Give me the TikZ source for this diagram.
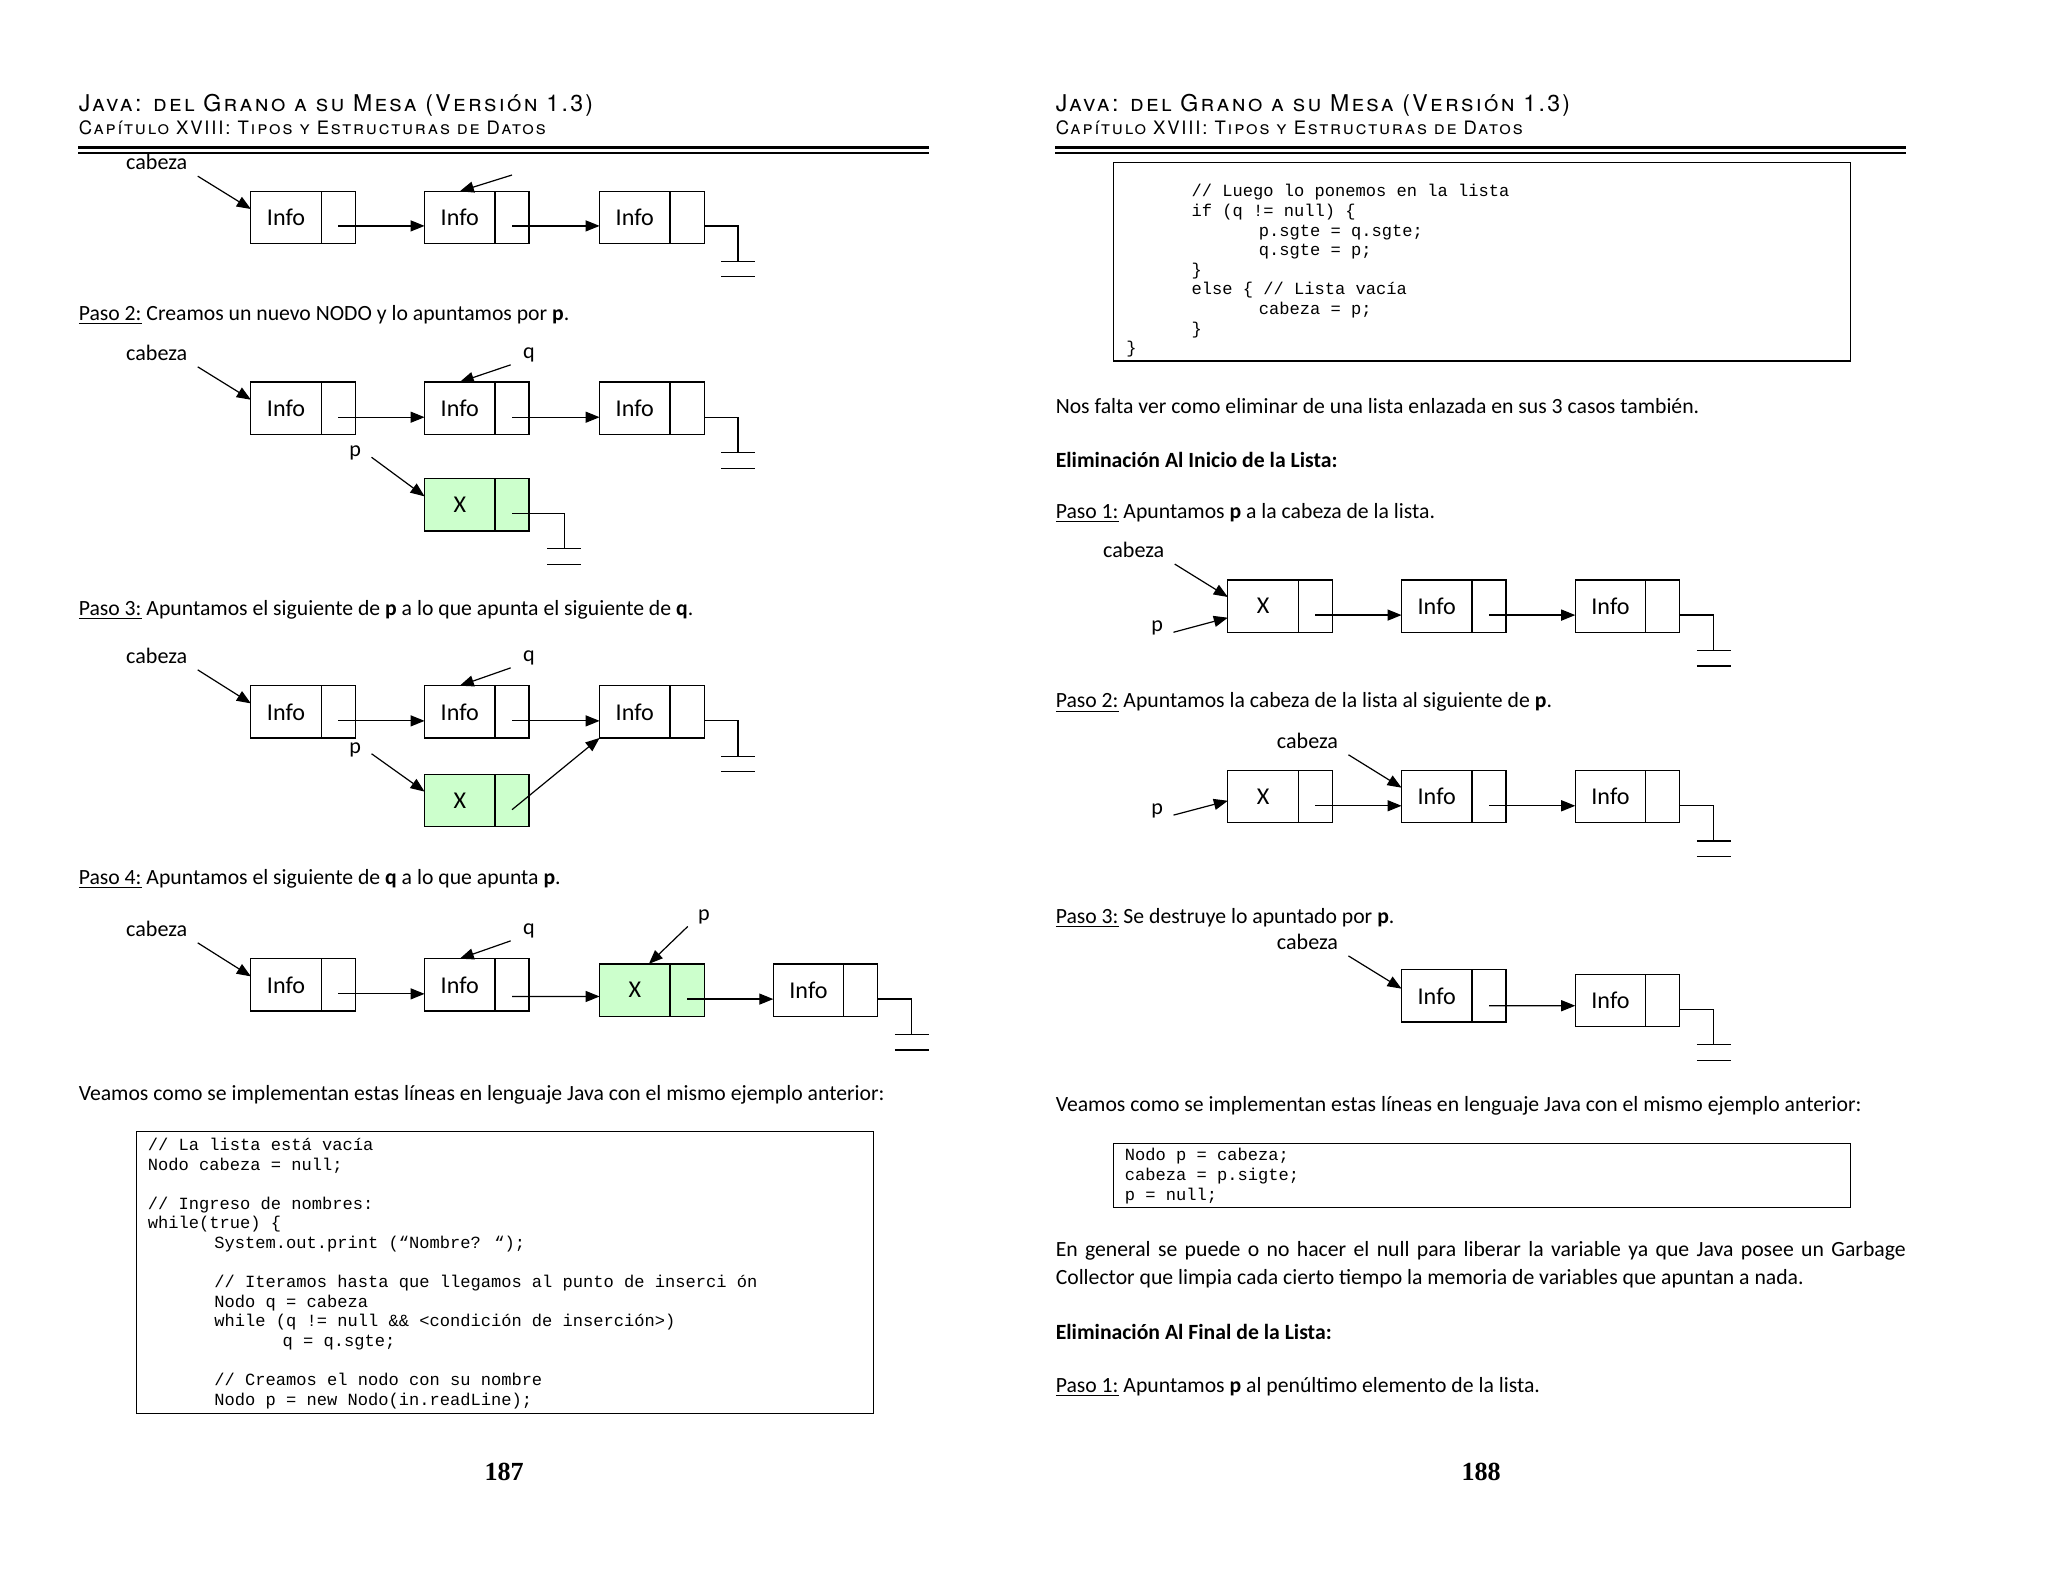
\documentclass[tikz,border=0pt]{standalone}
\usepackage{fontspec}
\setmainfont{Carlito}
\newfontfamily\encabezado{TeX Gyre Heros}[Letters=SmallCaps,LetterSpace=10]
\newfontfamily\codigo{Liberation Mono}
\newfontfamily\numpag{Liberation Serif}
\definecolor{nodoverde}{RGB}{204,255,204}
\usetikzlibrary{arrows.meta,positioning}

\begin{document}
\begin{tikzpicture}[x=0.65pt, y=-0.65pt,
  info/.style={draw, line width=0.6pt, minimum width=35pt, minimum height=26pt, inner sep=0pt, outer sep=0pt, font=\fontsize{12}{12}\selectfont},
  punt/.style={draw, line width=0.6pt, minimum width=17pt, minimum height=26pt, inner sep=0pt, outer sep=0pt},
  verde/.style={fill=nodoverde},
  flecha/.style={-{Triangle[length=7pt,width=5.5pt]}, line width=0.6pt},
  tierra/.style={line width=0.6pt},
  etiq/.style={inner sep=1pt, font=\fontsize{11}{12}\selectfont},
  texto/.style={anchor=west, inner sep=0pt, yshift=-1.2pt, font=\fontsize{10.8}{13}\selectfont},
  caja/.style={draw, line width=0.6pt, inner sep=0pt, anchor=north west},
  cod/.style={anchor=north west, inner sep=0pt, align=left, font=\codigo\fontsize{8.5}{9.75}\selectfont},
  regla/.style={line width=1.2pt}
]
\fill[white] (0,0) rectangle (1568,1211);
\useasboundingbox (0,0) rectangle (1568,1211);

%% ---------------- Pagina 187 ----------------
\node[anchor=west, inner sep=0pt, font=\encabezado\fontsize{11.5}{12}\selectfont] (tit1) at (60,81) {Java: del Grano a su Mesa (Versión 1.3)};
\node[anchor=west, inner sep=0pt, font=\encabezado\fontsize{9.2}{10}\selectfont] (cap1) at (60,98) {Capítulo XVIII: Tipos y Estructuras de Datos};
\draw[regla] (60,113) -- (711,113);
\draw[regla] (60,117) -- (711,117);

%% Paso 1 (final)
\node[etiq] (cab1) at (120,124) {cabeza};
\node[info] (a1) at (219,166.5) {Info};
\node[punt, right=0pt of a1] (a1p) {};
\node[info] (a2) at (352,166.5) {Info};
\node[punt, right=0pt of a2] (a2p) {};
\node[info] (a3) at (486,166.5) {Info};
\node[punt, right=0pt of a3] (a3p) {};
\coordinate (q1) at (392,134);
\draw[flecha] ([xshift=4pt,yshift=-2pt]cab1.south east) -- ([yshift=4.2pt]a1.west);
\draw[flecha] (q1) -- (a2.north);
\draw[flecha] ([yshift=-4.2pt]a1p.center) -- ([yshift=-4.2pt]a2.west);
\draw[flecha] ([yshift=-4.2pt]a2p.center) -- ([yshift=-4.2pt]a3.west);
\draw[tierra] ([yshift=-4.2pt]a3p.east) -- ++(26,0) -- ++(0,27) ++(-13,0) -- ++(26,0) ++(-26,12) -- ++(26,0);

%% Paso 2
\node[texto] (paso2) at (60,239) {\underline{Paso 2:} Creamos un nuevo NODO y lo apuntamos por \textbf{p}.};
\node[etiq] (cab2) at (120,270) {cabeza};
\node[etiq] (q2) at (405,272) {q};
\node[info] (b1) at (219,312.5) {Info};
\node[punt, right=0pt of b1] (b1p) {};
\node[info] (b2) at (352,312.5) {Info};
\node[punt, right=0pt of b2] (b2p) {};
\node[info] (b3) at (486,312.5) {Info};
\node[punt, right=0pt of b3] (b3p) {};
\node[etiq] (p2) at (272,347) {p};
\node[info, verde] (bx) at (352,386.5) {X};
\node[punt, verde, right=0pt of bx] (bxp) {};
\draw[flecha] ([xshift=4pt,yshift=-2pt]cab2.south east) -- ([yshift=4.2pt]b1.west);
\draw[flecha] ([xshift=-5pt]q2.south west) -- (b2.north);
\draw[flecha] ([yshift=-4.5pt]b1p.center) -- ([yshift=-4.5pt]b2.west);
\draw[flecha] ([yshift=-4.5pt]b2p.center) -- ([yshift=-4.5pt]b3.west);
\draw[tierra] ([yshift=-4.5pt]b3p.east) -- ++(26,0) -- ++(0,27) ++(-13,0) -- ++(26,0) ++(-26,12) -- ++(26,0);
\draw[flecha] ([xshift=4pt,yshift=-2pt]p2.east) -- ([yshift=4.2pt]bx.west);
\draw[tierra] ([yshift=-4.2pt]bxp.center) -- ++(40,0) -- ++(0,27) ++(-13,0) -- ++(26,0) ++(-26,12) -- ++(26,0);

%% Paso 3
\node[texto] (paso3) at (60,465) {\underline{Paso 3:} Apuntamos el siguiente de \textbf{p} a lo que apunta el siguiente de \textbf{q}.};
\node[etiq] (cab3) at (120,502) {cabeza};
\node[etiq] (q3) at (405,504) {q};
\node[info] (c1) at (219,545) {Info};
\node[punt, right=0pt of c1] (c1p) {};
\node[info] (c2) at (352,545) {Info};
\node[punt, right=0pt of c2] (c2p) {};
\node[info] (c3) at (486,545) {Info};
\node[punt, right=0pt of c3] (c3p) {};
\node[etiq] (p3) at (272,574) {p};
\node[info, verde] (cx) at (352,613) {X};
\node[punt, verde, right=0pt of cx] (cxp) {};
\draw[flecha] ([xshift=4pt,yshift=-2pt]cab3.south east) -- ([yshift=4.2pt]c1.west);
\draw[flecha] ([xshift=-5pt]q3.south west) -- (c2.north);
\draw[flecha] ([yshift=-4.5pt]c1p.center) -- ([yshift=-4.5pt]c2.west);
\draw[flecha] ([yshift=-4.5pt]c2p.center) -- ([yshift=-4.5pt]c3.west);
\draw[tierra] ([yshift=-4.5pt]c3p.east) -- ++(26,0) -- ++(0,27) ++(-13,0) -- ++(26,0) ++(-26,12) -- ++(26,0);
\draw[flecha] ([xshift=4pt,yshift=-2pt]p3.east) -- ([yshift=4.5pt]cx.west);
\draw[flecha] ([yshift=-4.5pt]cxp.center) -- (c3.south west);

%% Paso 4
\node[texto] (paso4) at (60,671) {\underline{Paso 4:} Apuntamos el siguiente de \textbf{q} a lo que apunta \textbf{p}.};
\node[etiq] (cab4) at (120,711) {cabeza};
\node[etiq] (q4) at (405,713) {q};
\node[etiq] (p4) at (539,702) {p};
\node[info] (d1) at (219,754) {Info};
\node[punt, right=0pt of d1] (d1p) {};
\node[info] (d2) at (352,754) {Info};
\node[punt, right=0pt of d2] (d2p) {};
\node[info, verde] (dx) at (486,758) {X};
\node[punt, verde, right=0pt of dx] (dxp) {};
\node[info] (d4) at (619,758) {Info};
\node[punt, right=0pt of d4] (d4p) {};
\draw[flecha] ([xshift=4pt,yshift=-2pt]cab4.south east) -- ([yshift=4.2pt]d1.west);
\draw[flecha] ([xshift=-5pt]q4.south west) -- (d2.north);
\draw[flecha] ([xshift=-4pt]p4.south west) -- ([xshift=7pt]dx.north);
\draw[flecha] ([yshift=-4.5pt]d1p.center) -- ([yshift=-4.5pt]d2.west);
\draw[flecha] ([yshift=-5.8pt]d2p.center) -- ([yshift=-3.2pt]dx.west);
\draw[flecha] ([yshift=-4.5pt]dxp.center) -- ([yshift=-4.5pt]d4.west);
\draw[tierra] ([yshift=-4.5pt]d4p.east) -- ++(26,0) -- ++(0,27) ++(-13,0) -- ++(26,0) ++(-26,12) -- ++(26,0);

%% Codigo
\node[texto] (veamos1) at (60,836) {Veamos como se implementan estas líneas en lenguaje Java con el mismo ejemplo anterior:};
\node[caja, minimum width=366.6pt, minimum height=140.4pt] (caja1) at (104,866) {};
\node[cod] (cod1) at (113,871) {%
// La lista está vacía\\
Nodo cabeza = null;\\
\mbox{}\\
// Ingreso de nombres:\\
while(true) \{\\
\hspace*{33pt}System.out.print (“Nombre? “);\\
\mbox{}\\
\hspace*{33pt}// Iteramos hasta que llegamos al punto de inserci ón\\
\hspace*{33pt}Nodo q = cabeza\\
\hspace*{33pt}while (q != null \&\& <condición de inserción>)\\
\hspace*{67pt}q = q.sgte;\\
\mbox{}\\
\hspace*{33pt}// Creamos el nodo con su nombre\\
\hspace*{33pt}Nodo p = new Nodo(in.readLine);};
\node[font=\numpag\bfseries\fontsize{13}{14}\selectfont] (num1) at (386,1127) {187};

%% ---------------- Pagina 188 ----------------
\node[anchor=west, inner sep=0pt, font=\encabezado\fontsize{11.5}{12}\selectfont] (tit2) at (808,81) {Java: del Grano a su Mesa (Versión 1.3)};
\node[anchor=west, inner sep=0pt, font=\encabezado\fontsize{9.2}{10}\selectfont] (cap2) at (808,98) {Capítulo XVIII: Tipos y Estructuras de Datos};
\draw[regla] (808,113) -- (1459,113);
\draw[regla] (808,117) -- (1459,117);

\node[caja, minimum width=366.6pt, minimum height=98.8pt] (caja2) at (852,124) {};
\node[cod] (cod2) at (862,141) {%
\hspace*{32.5pt}// Luego lo ponemos en la lista\\
\hspace*{32.5pt}if (q != null) \{\\
\hspace*{66pt}p.sgte = q.sgte;\\
\hspace*{66pt}q.sgte = p;\\
\hspace*{32.5pt}\}\\
\hspace*{32.5pt}else \{ // Lista vacía\\
\hspace*{66pt}cabeza = p;\\
\hspace*{32.5pt}\}\\
\}};

\node[texto] (falta) at (808,309) {Nos falta ver como eliminar de una lista enlazada en sus 3 casos también.};
\node[texto, font=\bfseries\fontsize{10.8}{13}\selectfont] (elim1) at (808,350) {Eliminación Al Inicio de la Lista:};

%% Eliminacion: Paso 1
\node[texto] (epaso1) at (808,391) {\underline{Paso 1:} Apuntamos \textbf{p} a la cabeza de la lista.};
\node[etiq] (cab5) at (868,421) {cabeza};
\node[etiq] (p5) at (886,481) {p};
\node[info] (e1) at (967,464) {X};
\node[punt, right=0pt of e1] (e1p) {};
\node[info] (e2) at (1100,464) {Info};
\node[punt, right=0pt of e2] (e2p) {};
\node[info] (e3) at (1233,464) {Info};
\node[punt, right=0pt of e3] (e3p) {};
\draw[flecha] ([xshift=4pt,yshift=-2pt]cab5.south east) -- ([yshift=4.5pt]e1.west);
\draw[flecha] ([xshift=4pt,yshift=-2pt]p5.east) -- ([yshift=-5.8pt]e1.west);
\draw[flecha] ([yshift=-4.5pt]e1p.center) -- ([yshift=-4.5pt]e2.west);
\draw[flecha] ([yshift=-4.5pt]e2p.center) -- ([yshift=-4.5pt]e3.west);
\draw[tierra] ([yshift=-4.5pt]e3p.east) -- ++(26,0) -- ++(0,27) ++(-13,0) -- ++(26,0) ++(-26,12) -- ++(26,0);

%% Eliminacion: Paso 2
\node[texto] (epaso2) at (808,536) {\underline{Paso 2:} Apuntamos la cabeza de la lista al siguiente de \textbf{p}.};
\node[etiq] (cab6) at (1001,567) {cabeza};
\node[etiq] (p6) at (886,621) {p};
\node[info] (f1) at (967,610) {X};
\node[punt, right=0pt of f1] (f1p) {};
\node[info] (f2) at (1100,610) {Info};
\node[punt, right=0pt of f2] (f2p) {};
\node[info] (f3) at (1233,610) {Info};
\node[punt, right=0pt of f3] (f3p) {};
\draw[flecha] ([xshift=4pt,yshift=-2pt]cab6.south east) -- ([yshift=4.5pt]f2.west);
\draw[flecha] ([xshift=4pt,yshift=-2pt]p6.east) -- ([yshift=-2pt]f1.west);
\draw[flecha] ([yshift=-4.5pt]f1p.center) -- ([yshift=-4.5pt]f2.west);
\draw[flecha] ([yshift=-4.5pt]f2p.center) -- ([yshift=-4.5pt]f3.west);
\draw[tierra] ([yshift=-4.5pt]f3p.east) -- ++(26,0) -- ++(0,27) ++(-13,0) -- ++(26,0) ++(-26,12) -- ++(26,0);

%% Eliminacion: Paso 3
\node[texto] (epaso3) at (808,701) {\underline{Paso 3:} Se destruye lo apuntado por \textbf{p}.};
\node[etiq] (cab7) at (1001,721) {cabeza};
\node[info] (g1) at (1100,762.5) {Info};
\node[punt, right=0pt of g1] (g1p) {};
\node[info] (g2) at (1233,766) {Info};
\node[punt, right=0pt of g2] (g2p) {};
\draw[flecha] ([xshift=4pt,yshift=-2pt]cab7.south east) -- ([yshift=3.6pt]g1.west);
\draw[flecha] ([yshift=-4.9pt]g1p.center) -- ([yshift=-2.6pt]g2.west);
\draw[tierra] ([yshift=-4.5pt]g2p.east) -- ++(26,0) -- ++(0,27) ++(-13,0) -- ++(26,0) ++(-26,12) -- ++(26,0);

\node[texto] (veamos2) at (808,845) {Veamos como se implementan estas líneas en lenguaje Java con el mismo ejemplo anterior:};
\node[caja, minimum width=366.6pt, minimum height=31.85pt] (caja3) at (852,875) {};
\node[cod] (cod3) at (861,879) {Nodo p = cabeza;\\cabeza = p.sigte;\\p = null;};

\node[texto] (gen1) at (808,956) {\makebox[423pt][s]{En general se puede o no hacer el null para liberar la variable ya que Java posee un Garbage}};
\node[texto] (gen2) at (808,977) {Collector que limpia cada cierto tiempo la memoria de variables que apuntan a nada.};
\node[texto, font=\bfseries\fontsize{10.8}{13}\selectfont] (elim2) at (808,1018) {Eliminación Al Final de la Lista:};
\node[texto] (fpaso1) at (808,1060) {\underline{Paso 1:} Apuntamos \textbf{p} al penúltimo elemento de la lista.};
\node[font=\numpag\bfseries\fontsize{13}{14}\selectfont] (num2) at (1134,1127) {188};
\end{tikzpicture}
\end{document}
